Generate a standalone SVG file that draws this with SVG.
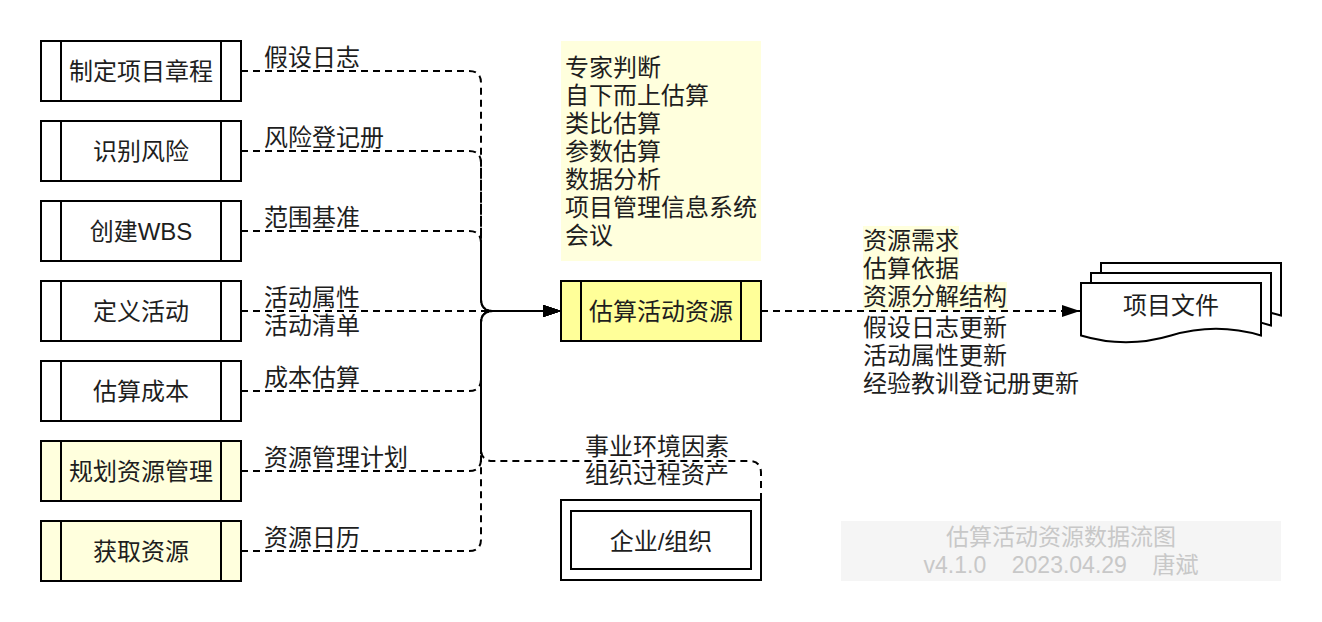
<svg xmlns="http://www.w3.org/2000/svg" width="1322" height="622" viewBox="0 0 1322 622">
<style>
.box{fill:#fff;stroke:#000;stroke-width:2}
.y1{fill:#ffffdd}
.y2{fill:#ffff99}
.ln{fill:none;stroke:#000;stroke-width:2}
.e{fill:none;stroke:#000;stroke-width:2;stroke-dasharray:7 5}
text{font-family:"Liberation Sans","Noto Sans CJK SC",sans-serif;font-size:24px;fill:#1e1e1e;dominant-baseline:central}
.c{text-anchor:middle}
.wm{fill:#c8c8c8;font-size:23px}
</style>
<defs>
<marker id="arr" markerUnits="userSpaceOnUse" markerWidth="20" markerHeight="14" refX="18" refY="6" orient="auto">
<path d="M0,0 L18,6 L0,12 Z" fill="#000" stroke="none"/>
</marker>
</defs>
<rect width="1322" height="622" fill="#fff"/>

<g id="connectors">
<path class="e" d="M241,71 H469 Q481,71 481,83 V299 Q481,311 493,311 H561" marker-end="url(#arr)"/>
<path class="e" d="M241,151 H469 Q481,151 481,163 V299 Q481,311 493,311 H561" marker-end="url(#arr)"/>
<path class="e" d="M241,231 H469 Q481,231 481,243 V299 Q481,311 493,311 H561" marker-end="url(#arr)"/>
<path class="e" d="M241,311 H561" marker-end="url(#arr)"/>
<path class="e" d="M241,391 H469 Q481,391 481,379 V323 Q481,311 493,311 H561" marker-end="url(#arr)"/>
<path class="e" d="M241,471 H469 Q481,471 481,459 V323 Q481,311 493,311 H561" marker-end="url(#arr)"/>
<path class="e" d="M241,551 H469 Q481,551 481,539 V323 Q481,311 493,311 H561" marker-end="url(#arr)"/>
<path class="e" d="M761,500 V473 Q761,461 749,461 H493 Q481,461 481,449 V323 Q481,311 493,311 H561" marker-end="url(#arr)"/>
<path class="e" d="M761,311 H1080" marker-end="url(#arr)"/>
</g>

<g id="edge-labels">
<text x="264" y="57">假设日志</text>
<text x="264" y="137">风险登记册</text>
<text x="264" y="217">范围基准</text>
<text x="264" y="297">活动属性</text>
<text x="264" y="325">活动清单</text>
<text x="264" y="377">成本估算</text>
<text x="264" y="457">资源管理计划</text>
<text x="264" y="537">资源日历</text>
<text class="c" x="657" y="446">事业环境因素</text>
<text class="c" x="657" y="474">组织过程资产</text>
<rect x="863" y="226" width="96" height="28" fill="#ffffdd"/>
<rect x="863" y="254" width="96" height="28" fill="#ffffdd"/>
<rect x="863" y="282" width="144" height="28" fill="#ffffdd"/>
<text x="863" y="240">资源需求</text>
<text x="863" y="268">估算依据</text>
<text x="863" y="296">资源分解结构</text>
<text x="863" y="327">假设日志更新</text>
<text x="863" y="355">活动属性更新</text>
<text x="863" y="383">经验教训登记册更新</text>
</g>

<g id="n1"><rect class="box" x="41" y="41" width="200" height="60"/><path class="ln" d="M61,41 V101 M221,41 V101"/><text class="c" x="141" y="71">制定项目章程</text></g>
<g id="n2"><rect class="box" x="41" y="121" width="200" height="60"/><path class="ln" d="M61,121 V181 M221,121 V181"/><text class="c" x="141" y="151">识别风险</text></g>
<g id="n3"><rect class="box" x="41" y="201" width="200" height="60"/><path class="ln" d="M61,201 V261 M221,201 V261"/><text class="c" x="141" y="231">创建WBS</text></g>
<g id="n4"><rect class="box" x="41" y="281" width="200" height="60"/><path class="ln" d="M61,281 V341 M221,281 V341"/><text class="c" x="141" y="311">定义活动</text></g>
<g id="n5"><rect class="box" x="41" y="361" width="200" height="60"/><path class="ln" d="M61,361 V421 M221,361 V421"/><text class="c" x="141" y="391">估算成本</text></g>
<g id="n6"><rect class="box y1" x="41" y="441" width="200" height="60"/><path class="ln" d="M61,441 V501 M221,441 V501"/><text class="c" x="141" y="471">规划资源管理</text></g>
<g id="n7"><rect class="box y1" x="41" y="521" width="200" height="60"/><path class="ln" d="M61,521 V581 M221,521 V581"/><text class="c" x="141" y="551">获取资源</text></g>

<g id="tools">
<rect x="561" y="41" width="200" height="220" fill="#ffffdd"/>
<text x="565" y="67">专家判断</text>
<text x="565" y="95">自下而上估算</text>
<text x="565" y="123">类比估算</text>
<text x="565" y="151">参数估算</text>
<text x="565" y="179">数据分析</text>
<text x="565" y="207">项目管理信息系统</text>
<text x="565" y="235">会议</text>
</g>

<g id="center">
<rect class="box y2" x="561" y="281" width="200" height="60"/>
<path class="ln" d="M581,281 V341 M741,281 V341"/>
<text class="c" x="661" y="311">估算活动资源</text>
</g>

<g id="org">
<rect class="box" x="561" y="500" width="200" height="80"/>
<rect class="box" x="571" y="511" width="180" height="58"/>
<text class="c" x="661" y="541">企业/组织</text>
</g>

<g id="docs">
<path class="box" d="M1101,263 H1281 V315.5 Q1236,302 1191,315.5 Q1146,329 1101,315.5 Z"/>
<path class="box" d="M1091,273 H1271 V325.5 Q1226,312 1181,325.5 Q1136,339 1091,325.5 Z"/>
<path class="box" d="M1081,283 H1261 V335.5 Q1216,322 1171,335.5 Q1126,349 1081,335.5 Z"/>
<text class="c" x="1171" y="305">项目文件</text>
</g>

<g id="watermark">
<rect x="841" y="521" width="440" height="60" fill="#f5f5f5"/>
<text class="c wm" x="1061" y="537">估算活动资源数据流图</text>
<text class="c wm" x="1061" y="565" xml:space="preserve">v4.1.0    2023.04.29    唐斌</text>
</g>
</svg>
